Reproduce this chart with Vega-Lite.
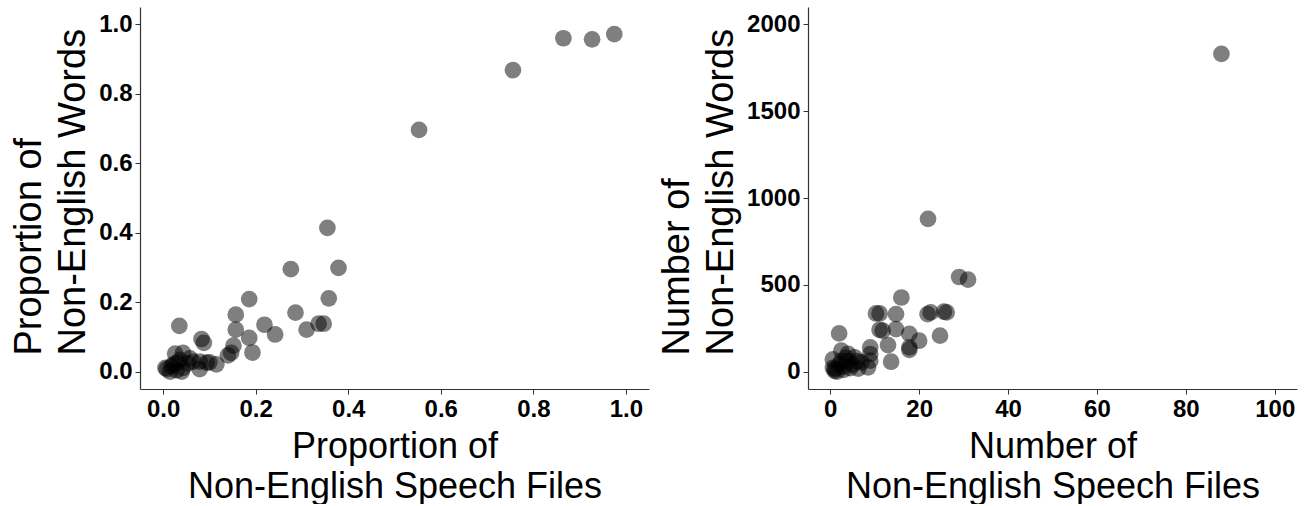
{
  "$schema": "https://vega.github.io/schema/vega-lite/v6.json",
  "padding": {"left": 10, "top": 7, "right": 10, "bottom": 0},
  "background": "white",
  "config": {
    "view": {"stroke": null},
    "axis": {
      "grid": false,
      "domainColor": "#333333",
      "domainWidth": 1.2,
      "tickColor": "#333333",
      "tickSize": 5,
      "labelFont": "Liberation Sans",
      "labelFontWeight": "bold",
      "labelFontSize": 24,
      "labelColor": "black",
      "labelPadding": 3,
      "labelOverlap": false,
      "labelFlush": false,
      "titleFont": "Liberation Sans",
      "titleFontWeight": "normal",
      "titleColor": "black"
    },
    "axisX": {"titlePadding": 8, "titleFontSize": 36, "titleLineHeight": 40},
    "axisY": {"titlePadding": 6, "titleFontSize": 38, "titleLineHeight": 44, "titleAlign": "left", "titleY": 348},
    "concat": {"spacing": 9}
  },
  "datasets": {
    "prop": [
      {"files": 0.975, "words": 0.972},
      {"files": 0.927, "words": 0.957},
      {"files": 0.865, "words": 0.960},
      {"files": 0.756, "words": 0.868},
      {"files": 0.553, "words": 0.696},
      {"files": 0.355, "words": 0.414},
      {"files": 0.276, "words": 0.295},
      {"files": 0.379, "words": 0.299},
      {"files": 0.358, "words": 0.211},
      {"files": 0.186, "words": 0.209},
      {"files": 0.286, "words": 0.170},
      {"files": 0.157, "words": 0.164},
      {"files": 0.219, "words": 0.135},
      {"files": 0.035, "words": 0.132},
      {"files": 0.336, "words": 0.138},
      {"files": 0.347, "words": 0.138},
      {"files": 0.310, "words": 0.121},
      {"files": 0.242, "words": 0.107},
      {"files": 0.157, "words": 0.121},
      {"files": 0.186, "words": 0.097},
      {"files": 0.083, "words": 0.094},
      {"files": 0.088, "words": 0.083},
      {"files": 0.152, "words": 0.075},
      {"files": 0.193, "words": 0.055},
      {"files": 0.147, "words": 0.054},
      {"files": 0.140, "words": 0.047},
      {"files": 0.115, "words": 0.021},
      {"files": 0.094, "words": 0.026},
      {"files": 0.079, "words": 0.029},
      {"files": 0.065, "words": 0.029},
      {"files": 0.079, "words": 0.007},
      {"files": 0.100, "words": 0.027},
      {"files": 0.026, "words": 0.052},
      {"files": 0.043, "words": 0.054},
      {"files": 0.036, "words": 0.034},
      {"files": 0.022, "words": 0.021},
      {"files": 0.008, "words": 0.007},
      {"files": 0.015, "words": 0.000},
      {"files": 0.029, "words": 0.004},
      {"files": 0.043, "words": 0.011},
      {"files": 0.005, "words": 0.011},
      {"files": 0.040, "words": 0.000},
      {"files": 0.054, "words": 0.024},
      {"files": 0.058, "words": 0.038},
      {"files": 0.018, "words": 0.015},
      {"files": 0.030, "words": 0.025}
    ],
    "count": [
      {"files": 88, "words": 1830},
      {"files": 22, "words": 880},
      {"files": 29, "words": 545},
      {"files": 31, "words": 530},
      {"files": 16, "words": 427},
      {"files": 10.3, "words": 335},
      {"files": 11.1, "words": 335},
      {"files": 14.8, "words": 331},
      {"files": 21.9, "words": 331},
      {"files": 22.6, "words": 341},
      {"files": 25.6, "words": 345},
      {"files": 26.2, "words": 341},
      {"files": 11.1, "words": 241},
      {"files": 11.8, "words": 236},
      {"files": 14.8, "words": 245},
      {"files": 2, "words": 220},
      {"files": 17.8, "words": 217},
      {"files": 24.7, "words": 207},
      {"files": 20, "words": 178},
      {"files": 17.8, "words": 140},
      {"files": 13, "words": 153},
      {"files": 17.8, "words": 126},
      {"files": 13.7, "words": 57},
      {"files": 9, "words": 140},
      {"files": 9, "words": 101},
      {"files": 9, "words": 63},
      {"files": 2.5, "words": 121},
      {"files": 4, "words": 103},
      {"files": 5.5, "words": 82},
      {"files": 7, "words": 54},
      {"files": 8.5, "words": 25},
      {"files": 6.3, "words": 17},
      {"files": 0.6, "words": 70},
      {"files": 0.6, "words": 22},
      {"files": 1, "words": 15},
      {"files": 2.5, "words": 60},
      {"files": 4, "words": 60},
      {"files": 1.5, "words": 0},
      {"files": 2, "words": 40},
      {"files": 3, "words": 30},
      {"files": 3.5, "words": 80},
      {"files": 5, "words": 40},
      {"files": 1, "words": 5},
      {"files": 3, "words": 10},
      {"files": 6, "words": 60},
      {"files": 4.5, "words": 20}
    ]
  },
  "hconcat": [
    {
      "width": 509,
      "height": 382,
      "data": {"name": "prop"},
      "mark": {"type": "circle", "size": 280, "color": "black", "opacity": 0.5},
      "encoding": {
        "x": {
          "field": "files", "type": "quantitative",
          "scale": {"domain": [-0.05, 1.05], "nice": false, "zero": false},
          "axis": {"values": [0, 0.2, 0.4, 0.6, 0.8, 1.0], "format": ".1f", "title": ["Proportion of", "Non-English Speech Files"]}
        },
        "y": {
          "field": "words", "type": "quantitative",
          "scale": {"domain": [-0.05, 1.05], "nice": false, "zero": false},
          "axis": {"values": [0, 0.2, 0.4, 0.6, 0.8, 1.0], "format": ".1f", "title": ["Proportion of", "Non-English Words"]}
        }
      }
    },
    {
      "width": 489,
      "height": 382,
      "data": {"name": "count"},
      "mark": {"type": "circle", "size": 280, "color": "black", "opacity": 0.5},
      "encoding": {
        "x": {
          "field": "files", "type": "quantitative",
          "scale": {"domain": [-5, 105], "nice": false, "zero": false},
          "axis": {"values": [0, 20, 40, 60, 80, 100], "format": "d", "title": ["Number of", "Non-English Speech Files"]}
        },
        "y": {
          "field": "words", "type": "quantitative",
          "scale": {"domain": [-100, 2100], "nice": false, "zero": false},
          "axis": {"values": [0, 500, 1000, 1500, 2000], "format": "d", "title": ["Number of", "Non-English Words"]}
        }
      }
    }
  ]
}
